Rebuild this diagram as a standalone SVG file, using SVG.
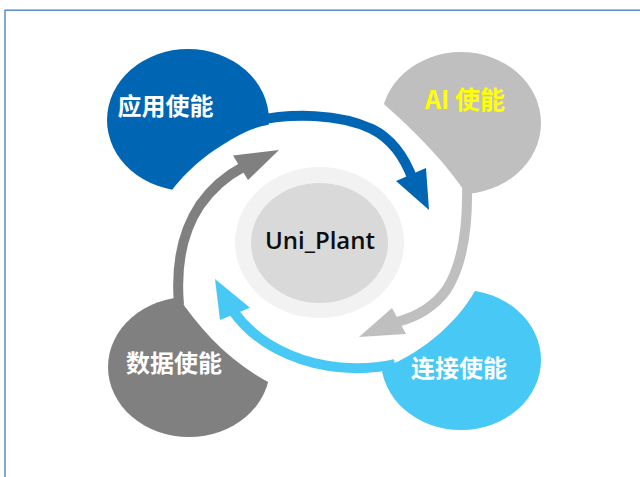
<svg xmlns="http://www.w3.org/2000/svg" width="640" height="477" viewBox="0 0 640 477">
  <style>
    .lbl { font-family: "Noto Sans CJK SC", "Noto Sans", sans-serif; font-weight: bold; font-size: 24px; text-anchor: middle; }
    .band { fill: none; stroke-width: 10; stroke-linecap: butt; }
    .center-text { font-family: "Open Sans", "Liberation Sans", sans-serif; font-weight: 600; font-size: 24px; text-anchor: middle; fill: #0d0d0d; }
  </style>
  <defs>
    <mask id="cut" maskUnits="userSpaceOnUse" x="0" y="0" width="640" height="477">
      <rect x="0" y="0" width="640" height="477" fill="#fff"/>
      <path fill="#000" d="M168,196 C185,170 215,146 250,130 C280,119 330,116 372,127 L379,100 C405,122 445,160 469,198 L471,240 L478,285 C462,318 425,352 383,368 L330,371 L270,383 C230,362 200,330 177,295 L165,250 Z"/>
    </mask>
  </defs>

  <rect id="frame" x="5" y="10.2" width="700" height="500" fill="none" stroke="#5B8BC9" stroke-width="1.5"/>

  <g id="node-app">
    <ellipse cx="188" cy="120" rx="81" ry="71" fill="#0066B3" mask="url(#cut)"/>
    <text class="lbl" x="165.5" y="115" fill="#ffffff">应用使能</text>
  </g>
  <g id="node-ai">
    <ellipse cx="461" cy="123" rx="80" ry="71" fill="#BFBFBF" mask="url(#cut)"/>
    <text class="lbl" x="465" y="108.5" fill="#FFFF00" style="font-size:25px">AI 使能</text>
  </g>
  <g id="node-data">
    <ellipse cx="189" cy="367" rx="81" ry="70" fill="#808080" mask="url(#cut)"/>
    <text class="lbl" x="174" y="372" fill="#ffffff">数据使能</text>
  </g>
  <g id="node-connect">
    <ellipse cx="461" cy="360" rx="80" ry="70" fill="#47C8F5" mask="url(#cut)"/>
    <text class="lbl" x="459" y="377" fill="#ffffff">连接使能</text>
  </g>

  <g id="connectors">
    <g id="arrow-app-ai">
      <path class="band" stroke="#0066B3" d="M250,122 C292,112 340,114 372,129 C390,138 404,155 413,180"/>
      <polygon fill="#0066B3" points="396,181 426,168 429,210"/>
    </g>
    <g id="arrow-ai-connect">
      <path class="band" stroke="#BFBFBF" d="M467,185 C468,230 462,265 447,289 C435,306 416,317 397,322"/>
      <polygon fill="#BFBFBF" points="392,308 406,334 359,337"/>
    </g>
    <g id="arrow-connect-data">
      <path class="band" stroke="#47C8F5" d="M395,364 C360,372 320,368 290,355 C268,346 248,332 233,311"/>
      <polygon fill="#47C8F5" points="250,307.7 220,320 215,279"/>
    </g>
    <g id="arrow-data-app">
      <path class="band" stroke="#808080" d="M179,305 C176,270 180,235 200,205 C212,188 226,176 243,167"/>
      <polygon fill="#808080" points="233,155.5 248,180 279,150"/>
    </g>
  </g>

  <g id="node-center">
    <ellipse cx="319.5" cy="242.5" rx="84.5" ry="75.5" fill="#F2F2F2"/>
    <ellipse cx="319.5" cy="243" rx="68.5" ry="60" fill="#D9D9D9"/>
    <text class="center-text" x="320" y="249">Uni_Plant</text>
  </g>
</svg>
